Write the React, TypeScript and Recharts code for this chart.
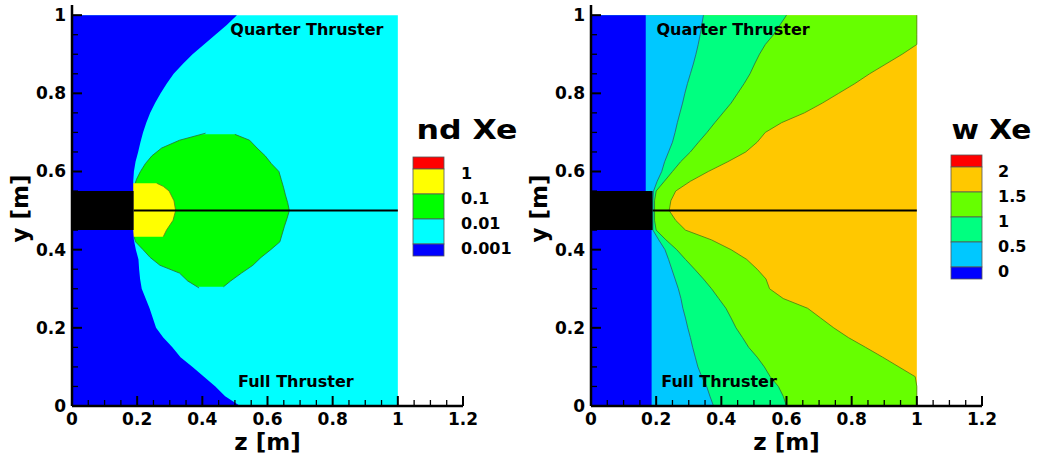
import React from 'react';
import {
  ComposedChart,
  Area,
  XAxis,
  YAxis,
  Label,
  ReferenceArea,
  ReferenceLine,
  ReferenceDot,
} from 'recharts';

const gridY = [
  0, 0.025, 0.05, 0.075, 0.1, 0.125, 0.15, 0.175, 0.2, 0.225,
  0.25, 0.275, 0.3, 0.325, 0.35, 0.375, 0.4, 0.425, 0.45, 0.475,
  0.5, 0.525, 0.55, 0.575, 0.6, 0.625, 0.65, 0.675, 0.7, 0.725,
  0.75, 0.775, 0.8, 0.825, 0.85, 0.875, 0.9, 0.925, 0.95, 0.975, 1,
];
const fullY = [0, 1];
const fullZ = [1, 1];

// nd Xe: z of the 0.001 / 0.01 edge at each gridY
const ndBlueEdge = [
  0.516, 0.47, 0.44, 0.405, 0.37, 0.333, 0.308, 0.28, 0.258, 0.248,
  0.238, 0.226, 0.214, 0.209, 0.206, 0.204, 0.196, 0.19, 0.188, 0.188,
  0.188, 0.188, 0.188, 0.188, 0.19, 0.195, 0.203, 0.21, 0.218, 0.228,
  0.24, 0.255, 0.272, 0.291, 0.312, 0.34, 0.37, 0.405, 0.44, 0.475, 0.506,
];
// 0.01 - 0.1 band (green blob): outer edge
const ndGreenY = [
  0.305, 0.32, 0.34, 0.36, 0.38, 0.4, 0.42, 0.44, 0.46, 0.48, 0.5,
  0.52, 0.54, 0.56, 0.58, 0.6, 0.62, 0.64, 0.66, 0.68, 0.695,
];
const ndGreenHi = [
  0.465, 0.487, 0.52, 0.555, 0.58, 0.61, 0.638, 0.645, 0.652, 0.66, 0.667,
  0.662, 0.655, 0.649, 0.642, 0.635, 0.612, 0.593, 0.568, 0.545, 0.5,
];
// inner (thruster side) edge of the green blob
const ndGreenInnerY = [
  0.302, 0.32, 0.34, 0.36, 0.38, 0.4, 0.42, 0.44, 0.46, 0.48, 0.5,
  0.52, 0.54, 0.56, 0.58, 0.6, 0.62, 0.64, 0.66, 0.68, 0.698,
];
const ndGreenLo = [
  0.39, 0.355, 0.33, 0.27, 0.24, 0.218, 0.195, 0.188, 0.188, 0.188, 0.188,
  0.188, 0.188, 0.19, 0.198, 0.21, 0.225, 0.245, 0.275, 0.33, 0.41,
];
// 0.1 - 1 band (yellow core), outer edge
const ndYellowY = [0.433, 0.45, 0.475, 0.5, 0.525, 0.55, 0.562, 0.57];
const ndYellowHi = [0.28, 0.29, 0.31, 0.318, 0.313, 0.298, 0.28, 0.26];

// w Xe: z of each contour edge at gridY
const wBlueEdge = [
  0.186, 0.186, 0.186, 0.186, 0.186, 0.186, 0.186, 0.186, 0.186, 0.186,
  0.186, 0.186, 0.186, 0.186, 0.186, 0.186, 0.186, 0.186, 0.186, 0.186,
  0.186, 0.186, 0.168, 0.168, 0.168, 0.168, 0.168, 0.168, 0.168, 0.168,
  0.168, 0.168, 0.168, 0.168, 0.168, 0.168, 0.168, 0.168, 0.168, 0.168, 0.168,
];
const wLightBlueEdge = [
  0.376, 0.365, 0.355, 0.34, 0.328, 0.32, 0.312, 0.305, 0.297, 0.29,
  0.282, 0.276, 0.268, 0.258, 0.248, 0.238, 0.227, 0.208, 0.19, 0.19,
  0.19, 0.19, 0.192, 0.203, 0.217, 0.226, 0.238, 0.25, 0.258, 0.265,
  0.273, 0.281, 0.288, 0.296, 0.305, 0.314, 0.322, 0.329, 0.335, 0.34, 0.345,
];
const wTealEdge = [
  0.6, 0.59, 0.575, 0.55, 0.532, 0.51, 0.484, 0.465, 0.445, 0.43,
  0.414, 0.392, 0.37, 0.345, 0.318, 0.29, 0.263, 0.23, 0.2, 0.195,
  0.195, 0.195, 0.2, 0.225, 0.25, 0.275, 0.305, 0.33, 0.356, 0.38,
  0.405, 0.43, 0.45, 0.47, 0.488, 0.502, 0.517, 0.535, 0.56, 0.58, 0.6,
];
const wGreenEdge = [
  1, 1, 1, 0.995, 0.945, 0.895, 0.843, 0.79, 0.745, 0.705,
  0.665, 0.59, 0.548, 0.537, 0.51, 0.478, 0.43, 0.37, 0.29, 0.26,
  0.24, 0.245, 0.26, 0.305, 0.36, 0.42, 0.475, 0.51, 0.535, 0.585,
  0.655, 0.71, 0.76, 0.81, 0.855, 0.905, 0.955, 1, 1, 1, 1,
];

// thruster block and centre line
const thrusterZ = [0, 0.189];
const thrusterY = [0.45, 0.55];
const axisLineZ = [0.189, 1];
const axisLineY = 0.5;

// ticks
const zMajorTicks = [0, 0.2, 0.4, 0.6, 0.8, 1, 1.2];
const zTickLabels = ['0', '0.2', '0.4', '0.6', '0.8', '1', '1.2'];
const zMinorTicks = [
  0.05, 0.1, 0.15, 0.25, 0.3, 0.35, 0.45, 0.5, 0.55, 0.65, 0.7, 0.75,
  0.85, 0.9, 0.95, 1.05, 1.1, 1.15,
];
const yMajorTicks = [0, 0.2, 0.4, 0.6, 0.8, 1];
const yTickLabels = ['0', '0.2', '0.4', '0.6', '0.8', '1'];
const yMinorTicks = [
  0.05, 0.1, 0.15, 0.25, 0.3, 0.35, 0.45, 0.5, 0.55, 0.65, 0.7, 0.75,
  0.85, 0.9, 0.95,
];

// legends
const ndLevels = ['1', '0.1', '0.01', '0.001'];
const ndColors = ['#ff0000', '#ffff00', '#00ff00', '#00ffff', '#0000ff'];
const wLevels = ['2', '1.5', '1', '0.5', '0'];
const wColors = ['#ff0000', '#ffc800', '#66ff00', '#00ff80', '#00c8ff', '#0000ff'];

const FONT = '"DejaVu Sans", Arial, sans-serif';
const tickFont = { fontFamily: FONT, fontWeight: 700, fontSize: 17, fill: '#000' };
const titleFont = { fontFamily: FONT, fontWeight: 700, fontSize: 23, fill: '#000' };

const mergeRows = (parts: { y: number[]; key: string; values: number[] }[]) => {
  const map = new Map<number, any>();
  parts.forEach(p => {
    p.y.forEach((yy, i) => {
      const row = map.get(yy) || { y: yy };
      row[p.key] = p.values[i];
      map.set(yy, row);
    });
  });
  return Array.from(map.values()).sort((a, b) => a.y - b.y);
};

// areas are painted from z=0 outwards, later ones on top
const ndRows = mergeRows([
  { y: fullY, key: 'full', values: fullZ },
  { y: gridY, key: 'blue', values: ndBlueEdge },
  { y: ndGreenY, key: 'greenOuter', values: ndGreenHi },
  { y: ndGreenInnerY, key: 'greenInner', values: ndGreenLo },
  { y: ndYellowY, key: 'yellow', values: ndYellowHi },
]);

const wRows = mergeRows([
  { y: fullY, key: 'full', values: fullZ },
  { y: gridY, key: 'green', values: wGreenEdge },
  { y: gridY, key: 'teal', values: wTealEdge },
  { y: gridY, key: 'lightblue', values: wLightBlueEdge },
  { y: gridY, key: 'blue', values: wBlueEdge },
]);

const findMajor = (majors: number[], v: number) =>
  majors.findIndex(m => Math.abs(m - v) < 1e-6);

const renderZTick = (props: any) => {
  const { x, y, payload } = props;
  const idx = findMajor(zMajorTicks, payload.value);
  const major = idx >= 0;
  return (
    <g>
      <line x1={x} x2={x} y1={y} y2={y - (major ? 10 : 6)} stroke="#000" strokeWidth={major ? 2 : 1.3} />
      {major && (
        <text x={x} y={y + 19} textAnchor="middle" style={tickFont}>
          {zTickLabels[idx]}
        </text>
      )}
    </g>
  );
};

const renderYTick = (props: any) => {
  const { x, y, payload } = props;
  const idx = findMajor(yMajorTicks, payload.value);
  const major = idx >= 0;
  return (
    <g>
      <line x1={x} x2={x + (major ? 10 : 6)} y1={y} y2={y} stroke="#000" strokeWidth={major ? 2 : 1.3} />
      {major && (
        <text x={x - 6} y={y + 6} textAnchor="end" style={tickFont}>
          {yTickLabels[idx]}
        </text>
      )}
    </g>
  );
};

const renderYTitle = (props: any) => {
  const vb = props.viewBox || { x: 22, y: 5, width: 50, height: 401 };
  const x = vb.x + 6;
  const y = vb.y + vb.height / 2 + 3;
  return (
    <text x={x} y={y} transform={`rotate(-90 ${x} ${y})`} textAnchor="middle" style={titleFont}>
      y [m]
    </text>
  );
};

const renderZTitle = (props: any) => {
  const vb = props.viewBox || { x: 72, y: 406, width: 391, height: 40 };
  return (
    <text x={vb.x + vb.width / 2} y={vb.y + 44} textAnchor="middle" style={titleFont}>
      z [m]
    </text>
  );
};

interface PanelProps {
  rows: any[];
  left: number;
  width: number;
  marginRight: number;
  quarterZ: number;
  fullZ: number;
  children: React.ReactNode;
}

const textLabel = (value: string) => ({
  value,
  position: 'center' as const,
  fill: '#000',
  fontSize: 16,
  fontWeight: 700,
  fontFamily: FONT,
});

const Panel: React.FC<PanelProps> = ({ rows, left, width, marginRight, quarterZ, fullZ: fullTextZ, children }) => (
  <div style={{ position: 'absolute', left, top: 0 }}>
    <ComposedChart
      layout="vertical"
      width={width}
      height={461}
      data={rows}
      margin={{ top: 5, right: marginRight, bottom: 15, left: 22 }}
    >
      {children}
      <ReferenceArea
        x1={thrusterZ[0]}
        x2={thrusterZ[1]}
        y1={thrusterY[0]}
        y2={thrusterY[1]}
        fill="#000"
        fillOpacity={1}
        stroke="none"
      />
      <ReferenceLine
        segment={[{ x: axisLineZ[0], y: axisLineY }, { x: axisLineZ[1], y: axisLineY }]}
        stroke="#000"
        strokeWidth={2}
      />
      <ReferenceDot x={quarterZ} y={0.963} r={0} fill="none" stroke="none" label={textLabel('Quarter Thruster')} />
      <ReferenceDot x={fullTextZ} y={0.0625} r={0} fill="none" stroke="none" label={textLabel('Full Thruster')} />
      <XAxis
        type="number"
        domain={[0, 1.2]}
        ticks={[...zMajorTicks, ...zMinorTicks].sort((a, b) => a - b)}
        interval={0}
        allowDataOverflow
        height={40}
        tickSize={0}
        tickMargin={0}
        tickLine={false}
        tick={renderZTick}
        axisLine={{ stroke: '#000', strokeWidth: 2.5 }}
      >
        <Label content={renderZTitle} />
      </XAxis>
      <YAxis
        type="number"
        dataKey="y"
        domain={[0, 1.026]}
        reversed
        ticks={[...yMajorTicks, ...yMinorTicks].sort((a, b) => a - b)}
        interval={0}
        allowDataOverflow
        width={50}
        tickSize={0}
        tickMargin={0}
        tickLine={false}
        tick={renderYTick}
        axisLine={{ stroke: '#000', strokeWidth: 2.5 }}
      >
        <Label content={renderYTitle} />
      </YAxis>
    </ComposedChart>
  </div>
);

interface ColorBarProps {
  x: number;
  top: number;
  colors: string[];
  labels: string[];
  labelX: number;
  title: string;
  titleX: number;
  titleLength: number;
}

const ColorBar: React.FC<ColorBarProps> = ({ x, top, colors, labels, labelX, title, titleX, titleLength }) => {
  const edge = 12;
  const mid = 25;
  const segs: { y: number; h: number; c: string }[] = [];
  let acc = top;
  colors.forEach((c, i) => {
    const h = i === 0 || i === colors.length - 1 ? edge : mid;
    segs.push({ y: acc, h, c });
    acc += h;
  });
  return (
    <g>
      <text
        x={titleX}
        y={138.5}
        textLength={titleLength}
        lengthAdjust="spacingAndGlyphs"
        style={{ fontFamily: FONT, fontWeight: 700, fontSize: 26, fill: '#000' }}
      >
        {title}
      </text>
      {segs.map((s, i) => (
        <rect key={i} x={x} y={s.y} width={31} height={s.h} fill={s.c} stroke="#555" strokeWidth={0.8} />
      ))}
      {labels.map((l, i) => (
        <text key={l} x={labelX} y={segs[i + 1].y + 10} style={{ fontFamily: FONT, fontWeight: 700, fontSize: 16, fill: '#000' }}>
          {l}
        </text>
      ))}
    </g>
  );
};

const areaProps = {
  type: 'linear' as const,
  isAnimationActive: false,
  connectNulls: true,
  dot: false,
  activeDot: false,
  fillOpacity: 1,
  baseValue: 0,
};

export default function App() {
  return (
    <div style={{ position: 'absolute', left: 0, top: 0, width: 1038, height: 461, background: '#fff', overflow: 'hidden' }}>
      <Panel rows={ndRows} left={0} width={520} marginRight={57} quarterZ={0.721} fullZ={0.687}>
        <Area {...areaProps} dataKey="full" fill={ndColors[3]} stroke="none" />
        <Area {...areaProps} dataKey="greenOuter" fill={ndColors[2]} stroke="#2c6e2c" strokeWidth={0.8} />
        <Area {...areaProps} dataKey="greenInner" fill={ndColors[3]} stroke="#2c6e2c" strokeWidth={0.8} />
        <Area {...areaProps} dataKey="yellow" fill={ndColors[1]} stroke="#5d7d1e" strokeWidth={0.8} />
        <Area {...areaProps} dataKey="blue" fill={ndColors[4]} stroke="none" />
      </Panel>
      <Panel rows={wRows} left={519} width={519} marginRight={56} quarterZ={0.436} fullZ={0.393}>
        <Area {...areaProps} dataKey="full" fill={wColors[1]} stroke="none" />
        <Area {...areaProps} dataKey="green" fill={wColors[2]} stroke="#4c7a14" strokeWidth={0.8} />
        <Area {...areaProps} dataKey="teal" fill={wColors[3]} stroke="#2c6e3c" strokeWidth={0.8} />
        <Area {...areaProps} dataKey="lightblue" fill={wColors[4]} stroke="#2c5e6e" strokeWidth={0.8} />
        <Area {...areaProps} dataKey="blue" fill={wColors[5]} stroke="none" />
      </Panel>
      <svg width={1038} height={461} style={{ position: 'absolute', left: 0, top: 0, pointerEvents: 'none' }}>
        <ColorBar x={413} top={157} colors={ndColors} labels={ndLevels} labelX={461} title="nd Xe" titleX={416.5} titleLength={101} />
        <ColorBar x={951} top={155} colors={wColors} labels={wLevels} labelX={998} title="w Xe" titleX={951.5} titleLength={80} />
      </svg>
    </div>
  );
}
